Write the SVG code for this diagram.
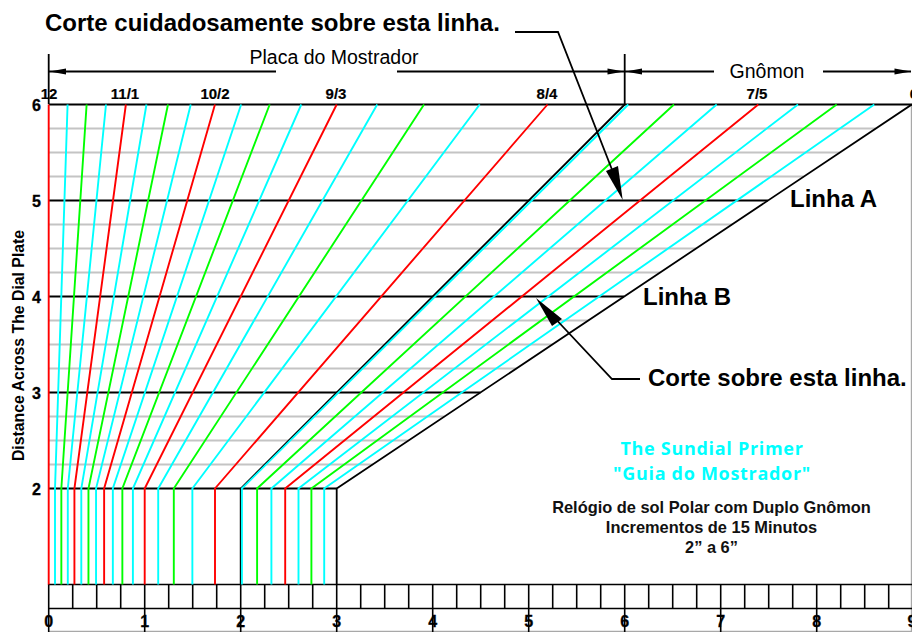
<svg xmlns="http://www.w3.org/2000/svg" width="912" height="632" viewBox="0 0 912 632">
<style>
text{font-family:"Liberation Sans",Arial,sans-serif;fill:#000}
.b{font-weight:bold}
.big{font-weight:bold;font-size:24px;stroke:none}
.n{font-weight:bold;font-size:16px;text-anchor:middle;stroke:#000;stroke-width:.3px}
.h{font-weight:bold;font-size:15px;text-anchor:middle;stroke:#000;stroke-width:.2px}
.d{font-size:19.5px;text-anchor:middle}
.m{font-weight:bold;font-size:16.4px;text-anchor:middle;fill:#111}
.c{font-family:"Open Sans","DejaVu Sans",sans-serif;font-weight:bold;font-size:18px;text-anchor:middle;fill:#00ffff}
.g line{stroke:#c4c4c4;stroke-width:2}
.k line,.k path{stroke:#000;stroke-width:1.8;fill:none}
.r polyline{fill:none;stroke:#ff0000;stroke-width:1.9}
.e polyline{fill:none;stroke:#00ff00;stroke-width:1.9}
.y polyline{fill:none;stroke:#00ffff;stroke-width:1.9}
.t line{stroke:#000;stroke-width:1.6}
.l path{stroke:#000;stroke-width:1.8;fill:none}
.l polygon,.a polygon{fill:#000}
</style>
<g id="frame" stroke="#a8a8a8" stroke-width="1.2"><line x1="911.4" y1="104" x2="911.4" y2="632"/><line x1="48" y1="631.4" x2="912" y2="631.4"/></g>
<g id="grid-gray" class="g">
<line x1="48.7" y1="128.5" x2="875.7" y2="128.5"/><line x1="48.7" y1="152.5" x2="839.7" y2="152.5"/><line x1="48.7" y1="176.5" x2="803.8" y2="176.5"/>
<line x1="48.7" y1="224.5" x2="732" y2="224.5"/><line x1="48.7" y1="248.5" x2="696.1" y2="248.5"/><line x1="48.7" y1="272.5" x2="660.1" y2="272.5"/>
<line x1="48.7" y1="320.5" x2="588.2" y2="320.5"/><line x1="48.7" y1="344.5" x2="552.3" y2="344.5"/><line x1="48.7" y1="368.5" x2="516.3" y2="368.5"/>
<line x1="48.7" y1="416.5" x2="444.4" y2="416.5"/><line x1="48.7" y1="440.5" x2="408.5" y2="440.5"/><line x1="48.7" y1="464.5" x2="372.6" y2="464.5"/>
</g>
<g id="grid-black" class="k">
<line x1="48.7" y1="104.5" x2="912" y2="104.5"/>
<line x1="48.7" y1="200.5" x2="767.9" y2="200.5"/>
<line x1="48.7" y1="296.5" x2="624" y2="296.5"/>
<line x1="48.7" y1="392.5" x2="480.4" y2="392.5"/>
<line x1="48.7" y1="488.5" x2="336.7" y2="488.5"/>
<path d="M624.7 104.5L240.7 488.5V584.5"/>
<path d="M911.7 104.5L336.7 488.5V584.5"/>
</g>
<g id="scale" class="t">
<line x1="48.7" y1="584.5" x2="912" y2="584.5"/><line x1="48.7" y1="608.5" x2="912" y2="608.5"/>
<line x1="48.7" y1="584" x2="48.7" y2="632"/><line x1="72.7" y1="584" x2="72.7" y2="609"/><line x1="96.7" y1="584" x2="96.7" y2="609"/><line x1="120.7" y1="584" x2="120.7" y2="609"/>
<line x1="144.7" y1="584" x2="144.7" y2="632"/><line x1="168.7" y1="584" x2="168.7" y2="609"/><line x1="192.7" y1="584" x2="192.7" y2="609"/><line x1="216.7" y1="584" x2="216.7" y2="609"/>
<line x1="240.7" y1="584" x2="240.7" y2="632"/><line x1="264.7" y1="584" x2="264.7" y2="609"/><line x1="288.7" y1="584" x2="288.7" y2="609"/><line x1="312.7" y1="584" x2="312.7" y2="609"/>
<line x1="336.7" y1="584" x2="336.7" y2="632"/><line x1="360.7" y1="584" x2="360.7" y2="609"/><line x1="384.7" y1="584" x2="384.7" y2="609"/><line x1="408.7" y1="584" x2="408.7" y2="609"/>
<line x1="432.7" y1="584" x2="432.7" y2="632"/><line x1="456.7" y1="584" x2="456.7" y2="609"/><line x1="480.7" y1="584" x2="480.7" y2="609"/><line x1="504.7" y1="584" x2="504.7" y2="609"/>
<line x1="528.7" y1="584" x2="528.7" y2="632"/><line x1="552.7" y1="584" x2="552.7" y2="609"/><line x1="576.7" y1="584" x2="576.7" y2="609"/><line x1="600.7" y1="584" x2="600.7" y2="609"/>
<line x1="624.7" y1="584" x2="624.7" y2="632"/><line x1="648.7" y1="584" x2="648.7" y2="609"/><line x1="672.7" y1="584" x2="672.7" y2="609"/><line x1="696.7" y1="584" x2="696.7" y2="609"/>
<line x1="720.7" y1="584" x2="720.7" y2="632"/><line x1="744.7" y1="584" x2="744.7" y2="609"/><line x1="768.7" y1="584" x2="768.7" y2="609"/><line x1="792.7" y1="584" x2="792.7" y2="609"/>
<line x1="816.7" y1="584" x2="816.7" y2="632"/><line x1="840.7" y1="584" x2="840.7" y2="609"/><line x1="864.7" y1="584" x2="864.7" y2="609"/><line x1="888.7" y1="584" x2="888.7" y2="609"/>
</g>
<g id="lines-cyan" class="y">
<polyline points="67.58,104.5 55,488.5 55,584.5"/><polyline points="105.99,104.5 67.8,488.5 67.8,584.5"/><polyline points="146.46,104.5 81.29,488.5 81.29,584.5"/><polyline points="190.73,104.5 96.04,488.5 96.04,584.5"/><polyline points="241.14,104.5 112.85,488.5 112.85,584.5"/><polyline points="301.3,104.5 132.9,488.5 132.9,584.5"/><polyline points="377.22,104.5 158.21,488.5 158.21,584.5"/><polyline points="479.72,104.5 192.37,488.5 192.37,584.5"/>
<polyline points="628.3,104.5 241.9,488.5 241.9,584.5"/><polyline points="716.7,104.5 271.4,488.5 271.4,584.5"/><polyline points="798,104.5 298.5,488.5 298.5,584.5"/><polyline points="874.3,104.5 324.2,488.5 324.2,584.5"/>
</g>
<g id="lines-green" class="e">
<polyline points="86.62,104.5 61.34,488.5 61.34,584.5"/><polyline points="167.99,104.5 88.46,488.5 88.46,584.5"/><polyline points="269.69,104.5 122.36,488.5 122.36,584.5"/><polyline points="424.03,104.5 173.81,488.5 173.81,584.5"/>
<polyline points="674,104.5 257.1,488.5 257.1,584.5"/><polyline points="836.7,104.5 311.4,488.5 311.4,584.5"/>
</g>
<g id="lines-red" class="r">
<polyline points="48.7,104.5 48.7,584.5"/><polyline points="125.87,104.5 74.42,488.5 74.42,584.5"/><polyline points="214.98,104.5 104.13,488.5 104.13,584.5"/><polyline points="336.7,104.5 144.7,488.5 144.7,584.5"/><polyline points="547.53,104.5 215,488.5 215,584.5"/><polyline points="758.3,104.5 285.2,488.5 285.2,584.5"/>
</g>
<g id="dimensions" class="a">
<g class="k">
<line x1="48.7" y1="54" x2="48.7" y2="104"/><line x1="624.7" y1="54" x2="624.7" y2="104"/>
<line x1="49" y1="71.5" x2="276" y2="71.5"/><line x1="397" y1="71.5" x2="624" y2="71.5"/><line x1="625" y1="71.5" x2="714" y2="71.5"/><line x1="823" y1="71.5" x2="911" y2="71.5"/>
</g>
<polygon points="49.5,71.5 66,68.5 66,74.5"/><polygon points="624,71.5 607.5,68.5 607.5,74.5"/><polygon points="625.5,71.5 642,68.5 642,74.5"/><polygon points="911,71.5 894.5,68.5 894.5,74.5"/>
<text class="d" x="334" y="63.5">Placa do Mostrador</text>
<text class="d" x="767" y="78">Gnômon</text>
</g>
<g id="leader-top" class="l">
<path d="M515 32H558L620 190"/>
<polygon points="622.7,200 606,171 618,166"/>
<text class="big" x="45" y="31">Corte cuidadosamente sobre esta linha.</text>
</g>
<g id="leader-bottom" class="l">
<path d="M640 379H612L550 313"/>
<polygon points="536,298 562,319 552,326"/>
<text class="big" x="648" y="386">Corte sobre esta linha.</text>
</g>
<g id="labels">
<text class="big" x="790" y="207">Linha A</text>
<text class="big" x="643" y="305">Linha B</text>
<text class="h" x="49" y="99">12</text><text class="h" x="125" y="99">11/1</text><text class="h" x="215" y="99">10/2</text><text class="h" x="336" y="99">9/3</text><text class="h" x="547" y="99">8/4</text><text class="h" x="757" y="99">7/5</text><text class="h" x="914" y="99">6</text>
<text class="n" x="36.5" y="111">6</text><text class="n" x="36.5" y="207">5</text><text class="n" x="36.5" y="303">4</text><text class="n" x="36.5" y="399">3</text><text class="n" x="36.5" y="495">2</text>
<text class="n" x="48.7" y="626.5">0</text><text class="n" x="144.7" y="626.5">1</text><text class="n" x="240.7" y="626.5">2</text><text class="n" x="336.7" y="626.5">3</text><text class="n" x="432.7" y="626.5">4</text><text class="n" x="528.7" y="626.5">5</text><text class="n" x="624.7" y="626.5">6</text><text class="n" x="720.7" y="626.5">7</text><text class="n" x="816.7" y="626.5">8</text><text class="n" x="912" y="626.5">9</text>
<text class="b" font-size="15.8" text-anchor="middle" transform="translate(23.5 345.5) rotate(-90)">Distance Across The Dial Plate</text>
<text class="c" x="712" y="455" letter-spacing=".7">The Sundial Primer</text>
<text class="c" x="712" y="480" letter-spacing=".7">"Guia do Mostrador"</text>
<text class="m" x="711.5" y="513">Relógio de sol Polar com Duplo Gnômon</text>
<text class="m" x="711.5" y="533">Incrementos de 15 Minutos</text>
<text class="m" x="711.5" y="553">2” a 6”</text>
</g>
</svg>
